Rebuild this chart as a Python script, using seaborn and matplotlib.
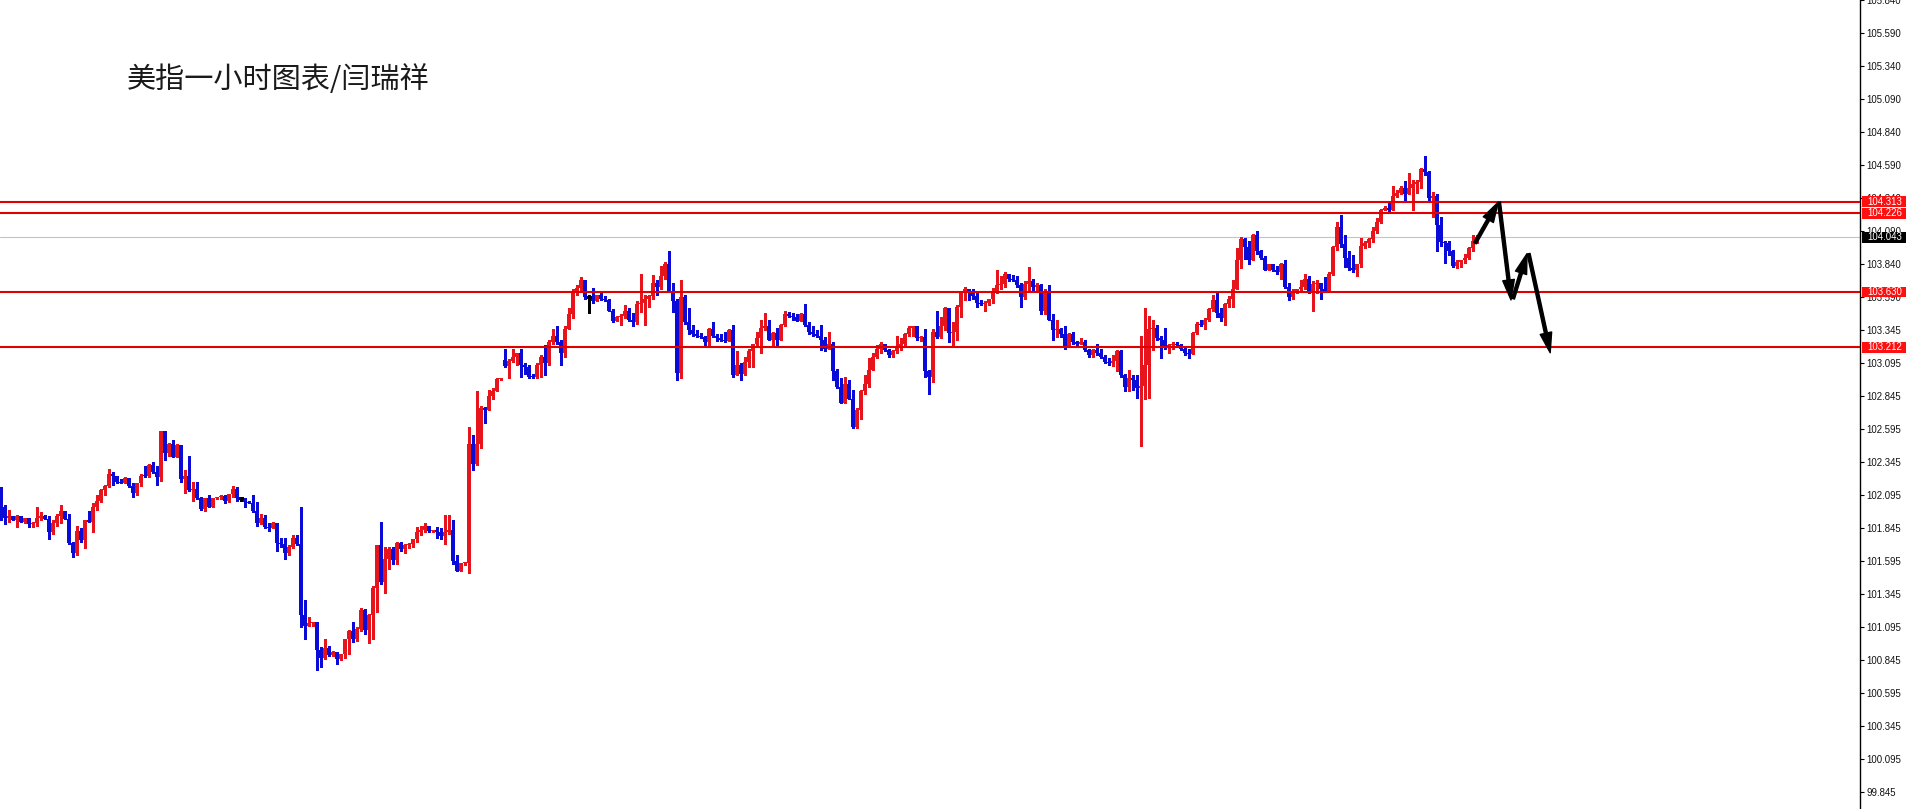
import numpy as np
import pandas as pd
import matplotlib
matplotlib.use("Agg")
import matplotlib.pyplot as plt
from matplotlib.patches import Rectangle
import seaborn as sns

# US dollar index, 1h candles
TITLE = "美指一小时图表/闫瑞祥"

first_open = 102.14

closes = [
    102.00, 101.92, 101.93, 101.90, 101.93, 101.89, 101.92, 101.87, 101.88, 101.92,
    101.93, 101.91, 101.81, 101.88, 101.93, 101.97, 101.91, 101.73, 101.65, 101.82,
    101.75, 101.90, 101.89, 102.00, 102.05, 102.13, 102.16, 102.25, 102.24, 102.19,
    102.185, 102.22, 102.16, 102.11, 102.18, 102.24, 102.235, 102.32, 102.27, 102.23,
    102.58, 102.41, 102.48, 102.38, 102.47, 102.21, 102.24, 102.13, 102.14, 102.07,
    101.99, 102.07, 102.00, 102.07, 102.075, 102.085, 102.05, 102.10, 102.14, 102.07,
    102.07, 102.04, 102.035, 101.97, 101.88, 101.92, 101.85, 101.845, 101.88, 101.73,
    101.72, 101.65, 101.70, 101.77, 101.72, 101.18, 101.10, 101.12, 101.13, 100.92,
    100.86, 100.93, 100.88, 100.905, 100.85, 100.89, 101.00, 101.06, 101.00, 101.08,
    101.22, 101.07, 101.18, 101.39, 101.71, 101.43, 101.61, 101.68, 101.60, 101.73,
    101.68, 101.71, 101.72, 101.76, 101.81, 101.83, 101.86, 101.82, 101.825, 101.815,
    101.78, 101.81, 101.83, 101.59, 101.52, 101.575, 101.58, 102.48, 102.33, 102.48,
    102.75, 102.74, 102.84, 102.88, 102.97, 102.98, 103.07, 103.11, 103.14, 103.17,
    103.08, 103.06, 102.99, 102.985, 103.08, 103.14, 103.09, 103.25, 103.30, 103.25,
    103.17, 103.35, 103.46, 103.62, 103.66, 103.72, 103.59, 103.59, 103.56, 103.61,
    103.58, 103.57, 103.49, 103.41, 103.44, 103.45, 103.49, 103.42, 103.40, 103.54,
    103.55, 103.58, 103.60, 103.70, 103.67, 103.75, 103.84, 103.63, 103.56, 103.02,
    103.59, 103.40, 103.34, 103.31, 103.30, 103.29, 103.25, 103.35, 103.30, 103.28,
    103.27, 103.26, 103.34, 103.00, 103.08, 103.01, 103.10, 103.18, 103.24, 103.28,
    103.36, 103.37, 103.27, 103.32, 103.27, 103.38, 103.46, 103.45, 103.44, 103.41,
    103.46, 103.38, 103.33, 103.31, 103.30, 103.27, 103.20, 103.24, 103.03, 102.91,
    102.79, 102.93, 102.82, 102.61, 102.74, 102.88, 102.93, 103.04, 103.14, 103.20,
    103.24, 103.19, 103.15, 103.18, 103.22, 103.24, 103.31, 103.36, 103.37, 103.28,
    103.29, 103.03, 102.99, 103.33, 103.29, 103.37, 103.51, 103.32, 103.33, 103.52,
    103.63, 103.65, 103.62, 103.60, 103.55, 103.54, 103.55, 103.58, 103.63, 103.68,
    103.69, 103.77, 103.73, 103.72, 103.68, 103.59, 103.69, 103.71, 103.67, 103.68,
    103.49, 103.63, 103.42, 103.34, 103.35, 103.31, 103.22, 103.31, 103.25, 103.24,
    103.25, 103.19, 103.15, 103.19, 103.17, 103.14, 103.10, 103.09, 103.11, 103.18,
    103.00, 102.91, 102.98, 102.96, 102.90, 102.92, 103.08, 103.35, 103.36, 103.28,
    103.27, 103.22, 103.23, 103.24, 103.23, 103.20, 103.17, 103.16, 103.32, 103.39,
    103.38, 103.42, 103.50, 103.57, 103.47, 103.43, 103.54, 103.58, 103.65, 103.87,
    104.03, 103.97, 103.87, 104.06, 103.94, 103.89, 103.80, 103.84, 103.80, 103.78,
    103.84, 103.67, 103.59, 103.64, 103.65, 103.67, 103.73, 103.62, 103.69, 103.70,
    103.65, 103.64, 103.77, 103.97, 104.12, 103.99, 103.89, 103.81, 103.80, 103.84,
    103.98, 104.00, 104.03, 104.09, 104.16, 104.25, 104.27, 104.25, 104.36, 104.38,
    104.42, 104.37, 104.42, 104.45, 104.46, 104.56, 104.54, 104.34, 104.36, 104.14,
    104.01, 104.00, 103.94, 103.83, 103.86, 103.87, 103.89, 103.96, 104.02, 104.05,
]

highs = [
    102.15, 102.02, 101.98, 101.93, 101.94, 101.93, 101.92, 101.92, 101.89, 102.00,
    101.96, 101.94, 101.93, 101.90, 101.95, 102.02, 101.97, 101.95, 101.74, 101.86,
    101.84, 101.89, 101.97, 102.03, 102.09, 102.14, 102.17, 102.29, 102.27, 102.24,
    102.21, 102.23, 102.22, 102.18, 102.18, 102.25, 102.31, 102.33, 102.34, 102.31,
    102.58, 102.58, 102.49, 102.51, 102.48, 102.47, 102.28, 102.39, 102.19, 102.19,
    102.08, 102.07, 102.09, 102.07, 102.08, 102.09, 102.09, 102.10, 102.16, 102.15,
    102.07, 102.07, 102.05, 102.09, 102.04, 101.95, 101.94, 101.88, 101.89, 101.88,
    101.77, 101.77, 101.71, 101.79, 101.79, 102.00, 101.30, 101.17, 101.13, 101.12,
    100.94, 101.00, 100.95, 100.91, 100.90, 100.89, 101.00, 101.07, 101.13, 101.09,
    101.24, 101.23, 101.19, 101.40, 101.71, 101.89, 101.70, 101.70, 101.70, 101.74,
    101.74, 101.72, 101.73, 101.76, 101.85, 101.86, 101.88, 101.86, 101.83, 101.85,
    101.84, 101.94, 101.94, 101.90, 101.64, 101.58, 101.58, 102.61, 102.55, 102.88,
    102.77, 102.76, 102.89, 102.90, 102.98, 102.98, 103.20, 103.12, 103.20, 103.17,
    103.20, 103.09, 103.08, 103.01, 103.09, 103.15, 103.23, 103.27, 103.35, 103.37,
    103.27, 103.37, 103.51, 103.65, 103.68, 103.74, 103.72, 103.61, 103.66, 103.61,
    103.63, 103.60, 103.58, 103.50, 103.45, 103.46, 103.53, 103.51, 103.47, 103.56,
    103.77, 103.61, 103.61, 103.76, 103.72, 103.83, 103.86, 103.94, 103.70, 103.58,
    103.72, 103.61, 103.51, 103.38, 103.34, 103.32, 103.30, 103.36, 103.40, 103.31,
    103.31, 103.33, 103.35, 103.38, 103.18, 103.09, 103.14, 103.20, 103.24, 103.33,
    103.42, 103.47, 103.42, 103.33, 103.36, 103.39, 103.49, 103.48, 103.47, 103.46,
    103.47, 103.54, 103.40, 103.37, 103.34, 103.38, 103.29, 103.33, 103.25, 103.05,
    102.98, 102.99, 102.96, 102.89, 102.75, 102.89, 103.00, 103.13, 103.17, 103.23,
    103.25, 103.24, 103.20, 103.19, 103.30, 103.28, 103.32, 103.37, 103.37, 103.37,
    103.30, 103.35, 103.04, 103.35, 103.49, 103.44, 103.52, 103.51, 103.40, 103.53,
    103.63, 103.67, 103.65, 103.65, 103.62, 103.57, 103.56, 103.58, 103.66, 103.80,
    103.75, 103.78, 103.77, 103.76, 103.75, 103.70, 103.71, 103.82, 103.73, 103.70,
    103.69, 103.65, 103.68, 103.46, 103.42, 103.36, 103.37, 103.32, 103.33, 103.26,
    103.28, 103.27, 103.20, 103.20, 103.24, 103.20, 103.15, 103.13, 103.15, 103.19,
    103.19, 103.01, 103.04, 103.00, 103.00, 103.30, 103.51, 103.45, 103.42, 103.38,
    103.30, 103.36, 103.24, 103.25, 103.25, 103.24, 103.22, 103.20, 103.33, 103.40,
    103.42, 103.43, 103.51, 103.61, 103.62, 103.51, 103.55, 103.60, 103.72, 103.96,
    104.05, 104.04, 104.02, 104.07, 104.09, 103.95, 103.90, 103.84, 103.84, 103.83,
    103.85, 103.87, 103.70, 103.65, 103.65, 103.72, 103.77, 103.75, 103.71, 103.72,
    103.70, 103.74, 103.78, 103.98, 104.16, 104.21, 104.06, 103.94, 103.91, 103.84,
    104.04, 104.02, 104.04, 104.12, 104.19, 104.26, 104.28, 104.31, 104.43, 104.40,
    104.43, 104.47, 104.53, 104.48, 104.48, 104.57, 104.66, 104.55, 104.39, 104.37,
    104.20, 104.02, 104.02, 103.95, 103.87, 103.87, 103.92, 103.97, 104.06, 104.06,
]

lows = [
    101.90, 101.87, 101.89, 101.90, 101.85, 101.89, 101.88, 101.85, 101.85, 101.86,
    101.90, 101.91, 101.76, 101.80, 101.86, 101.88, 101.91, 101.72, 101.62, 101.64,
    101.74, 101.69, 101.89, 101.81, 101.98, 102.04, 102.09, 102.15, 102.17, 102.18,
    102.18, 102.18, 102.15, 102.08, 102.09, 102.16, 102.23, 102.23, 102.26, 102.17,
    102.20, 102.36, 102.39, 102.38, 102.38, 102.19, 102.11, 102.12, 102.05, 102.06,
    101.98, 101.97, 102.00, 102.00, 102.06, 102.06, 102.03, 102.04, 102.08, 102.05,
    102.05, 102.00, 102.03, 101.96, 101.86, 101.87, 101.84, 101.82, 101.84, 101.67,
    101.70, 101.61, 101.64, 101.69, 101.71, 101.09, 101.00, 101.10, 101.10, 100.77,
    100.79, 100.85, 100.87, 100.87, 100.81, 100.84, 100.86, 100.89, 100.98, 100.99,
    101.06, 101.04, 100.97, 101.00, 101.21, 101.42, 101.35, 101.53, 101.57, 101.57,
    101.67, 101.65, 101.69, 101.70, 101.74, 101.79, 101.81, 101.81, 101.81, 101.77,
    101.76, 101.72, 101.80, 101.57, 101.52, 101.52, 101.56, 101.50, 102.28, 102.32,
    102.45, 102.64, 102.74, 102.82, 102.88, 102.96, 103.06, 102.98, 103.10, 103.08,
    102.99, 103.01, 102.98, 102.98, 102.98, 102.99, 103.00, 103.08, 103.24, 103.24,
    103.08, 103.14, 103.35, 103.43, 103.61, 103.63, 103.58, 103.47, 103.55, 103.57,
    103.57, 103.56, 103.49, 103.40, 103.41, 103.38, 103.43, 103.41, 103.37, 103.39,
    103.48, 103.38, 103.52, 103.58, 103.61, 103.65, 103.73, 103.63, 103.48, 102.96,
    102.98, 103.39, 103.31, 103.30, 103.29, 103.28, 103.23, 103.22, 103.29, 103.26,
    103.26, 103.25, 103.26, 102.99, 103.00, 102.96, 103.00, 103.06, 103.06, 103.22,
    103.17, 103.34, 103.27, 103.22, 103.22, 103.27, 103.37, 103.44, 103.42, 103.41,
    103.41, 103.37, 103.31, 103.30, 103.29, 103.19, 103.18, 103.20, 102.96, 102.90,
    102.79, 102.79, 102.82, 102.60, 102.60, 102.67, 102.86, 102.91, 103.04, 103.13,
    103.17, 103.18, 103.14, 103.14, 103.17, 103.19, 103.22, 103.30, 103.30, 103.27,
    103.26, 102.99, 102.86, 102.95, 103.28, 103.28, 103.34, 103.25, 103.22, 103.27,
    103.44, 103.57, 103.57, 103.58, 103.52, 103.53, 103.49, 103.53, 103.55, 103.62,
    103.65, 103.67, 103.71, 103.71, 103.67, 103.52, 103.58, 103.63, 103.64, 103.63,
    103.46, 103.46, 103.42, 103.27, 103.29, 103.29, 103.20, 103.21, 103.24, 103.22,
    103.24, 103.18, 103.14, 103.14, 103.15, 103.13, 103.09, 103.08, 103.07, 103.03,
    102.99, 102.88, 102.88, 102.89, 102.83, 102.46, 102.82, 102.83, 103.19, 103.27,
    103.13, 103.20, 103.17, 103.20, 103.22, 103.19, 103.15, 103.13, 103.16, 103.31,
    103.37, 103.35, 103.41, 103.49, 103.44, 103.41, 103.38, 103.52, 103.52, 103.66,
    103.81, 103.88, 103.84, 103.87, 103.92, 103.88, 103.80, 103.80, 103.79, 103.77,
    103.73, 103.66, 103.57, 103.58, 103.62, 103.63, 103.65, 103.62, 103.49, 103.62,
    103.58, 103.63, 103.63, 103.76, 103.95, 103.97, 103.82, 103.80, 103.78, 103.75,
    103.82, 103.96, 103.97, 104.01, 104.08, 104.15, 104.25, 104.24, 104.25, 104.35,
    104.37, 104.32, 104.37, 104.25, 104.38, 104.42, 104.52, 104.32, 104.20, 103.94,
    103.98, 103.85, 103.91, 103.82, 103.81, 103.82, 103.85, 103.88, 103.94, 104.00,
]

# opens follow the previous close, except where the chart shows a gap
gap_opens = {127: 103.115}

levels = [104.313, 104.226, 103.630, 103.212]
last_price = 104.043

tick_values = [99.845, 100.095, 100.345, 100.595, 100.845, 101.095, 101.345,
               101.595, 101.845, 102.095, 102.345, 102.595, 102.845, 103.095,
               103.345, 103.590, 103.840, 104.090, 104.340, 104.590, 104.840,
               105.090, 105.340, 105.590, 105.840]

# hand-drawn projection arrows: (bar, price) tail -> head
arrows = [
    ((369.5, 104.00), (375.3, 104.31)),
    ((375.5, 104.31), (378.5, 103.57)),
    ((379.0, 103.58), (382.5, 103.92)),
    ((382.9, 103.92), (388.3, 103.17)),
]

UP = "#e8141b"
DOWN = "#0b0bd8"
LEVEL_RED = "#e00000"

sns.set_theme(style="white")
plt.rcParams["font.family"] = ["Noto Sans CJK SC", "DejaVu Sans"]

df = pd.DataFrame({"close": closes, "high": highs, "low": lows})
df["bar"] = np.arange(1, len(df) + 1)
df["open"] = [first_open] + closes[:-1]
for bar, price in gap_opens.items():
    df.loc[df["bar"] == bar, "open"] = price
df["high"] = df[["high", "open", "close"]].max(axis=1)
df["low"] = df[["low", "open", "close"]].min(axis=1)
df["kind"] = np.where(df["close"] > df["open"], "up",
                      np.where(df["close"] < df["open"], "down", "flat"))
palette = {"up": UP, "down": DOWN, "flat": "black"}
colors = df["kind"].map(palette)

fig = plt.figure(figsize=(19.08, 8.09), dpi=100)
fig.patch.set_facecolor("white")
ax = fig.add_axes([0, 0, 1860 / 1908, 1])
ax.set_facecolor("white")

# wicks and bodies
ax.vlines(df["bar"], df["low"], df["high"], colors=colors, linewidth=0.8,
          antialiased=False, zorder=2)
body_lo = df[["open", "close"]].min(axis=1)
body_h = (df["close"] - df["open"]).abs().clip(lower=0.008)
solid = df["kind"] != "flat"
ax.bar(df["bar"][solid], body_h[solid], bottom=body_lo[solid], width=0.8,
       color=colors[solid], linewidth=0, antialiased=False, zorder=2)
flat = df[~solid]
ax.hlines(flat["close"], flat["bar"] - 0.45, flat["bar"] + 0.45,
          colors="black", linewidth=1.0, antialiased=False, zorder=2)

# bid line and support / resistance levels
ax.axhline(last_price, color="#c4c4c4", linewidth=0.8, zorder=1)
for lv in levels:
    ax.axhline(lv, color=LEVEL_RED, linewidth=1.5, zorder=3)

for tail, head in arrows:
    ax.annotate("", xy=head, xytext=tail,
                arrowprops=dict(arrowstyle="simple,head_length=1.2,head_width=0.7,tail_width=0.18",
                                color="black", shrinkA=0, shrinkB=0),
                zorder=4)

ax.set_xlim(0.75, 465.75)
ax.set_ylim(99.714, 105.842)
ax.set_xticks([])
ax.yaxis.tick_right()
ax.set_yticks(tick_values)
ax.set_yticklabels([f"{v:.3f}" for v in tick_values],
                   fontfamily="Liberation Sans", fontsize=6.9, color="#111111")
ax.tick_params(axis="y", direction="out", length=3, width=0.8, color="black",
               pad=1.5, right=True, left=False)
for side in ["left", "top", "bottom"]:
    ax.spines[side].set_visible(False)
ax.spines["right"].set_color("black")
ax.spines["right"].set_linewidth(1.0)
ax.grid(False)

# price tags on the scale
ytrans = ax.get_yaxis_transform()
tags = [(lv, "#ff1010") for lv in levels] + [(last_price, "black")]
for price, bg in tags:
    ax.add_patch(Rectangle((1862 / 1860, price - 0.041), 44 / 1860, 0.082,
                           transform=ytrans, facecolor=bg, edgecolor="none",
                           clip_on=False, zorder=6))
    ax.text(1867 / 1860, price, f"{price:.3f}", transform=ytrans, ha="left", va="center",
            fontfamily="Liberation Sans", fontsize=6.9, color="white",
            clip_on=False, zorder=7)

fig.text(127 / 1908, 1 - 80 / 809, TITLE, fontsize=21, ha="left", va="center",
         color="#1a1a1a")

fig.savefig("out.png", dpi=100, facecolor="white")
